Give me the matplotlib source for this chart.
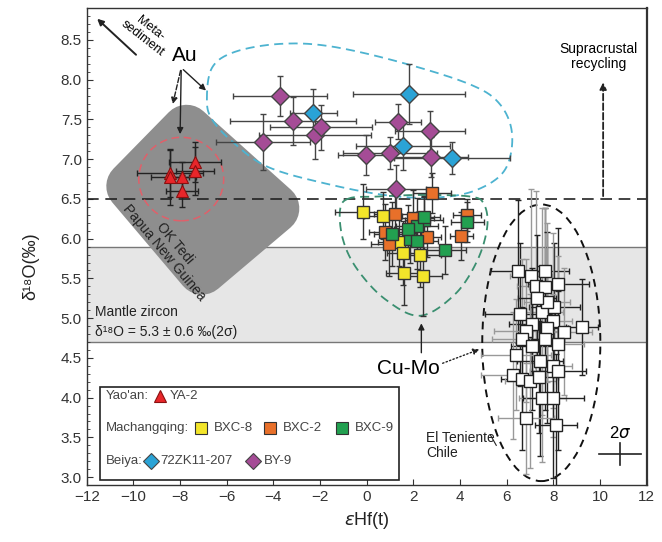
import numpy as np
import matplotlib
matplotlib.use("Agg")
import matplotlib.pyplot as plt
from matplotlib.patches import Polygon, Ellipse, Rectangle
from matplotlib.ticker import MultipleLocator, FormatStrFormatter

plt.rcParams['font.family'] = ['Liberation Sans', 'DejaVu Sans']
plt.rcParams['mathtext.fontset'] = 'dejavusans'

# ---- data (eHf(t), d18O, 2s errors) ----
# Yao'an YA-2
ya2_x = [-8.43, -8.43, -7.92, -7.92, -7.36, -7.36]
ya2_y = [6.83, 6.77, 6.77, 6.60, 6.96, 6.85]
ya2_xe = [1.4, 0.8, 0.6, 0.7, 1.1, 0.8]
ya2_ye = [0.30, 0.35, 0.20, 0.20, 0.25, 0.30]

# Beiya BY-9
by9_x = [-3.72, -3.15, -4.44, -2.22, -1.96, 1.34, 2.71, -0.03, 1.00, 2.76, 1.26]
by9_y = [7.79, 7.48, 7.22, 7.30, 7.40, 7.47, 7.35, 7.05, 7.08, 7.03, 6.63]
by9_xe = [2.0, 2.7, 2.0, 2.4, 2.2, 1.0, 1.5, 1.2, 2.0, 1.6, 1.3]
by9_ye = [0.25, 0.30, 0.35, 0.30, 0.28, 0.22, 0.25, 0.25, 0.20, 0.25, 0.30]

# Beiya 72ZK11-207
zk_x = [-2.29, 1.82, 1.56, 3.66]
zk_y = [7.58, 7.82, 7.16, 7.01]
zk_xe = [1.0, 2.4, 2.0, 2.5]
zk_ye = [0.30, 0.38, 0.30, 0.20]

# Machangqing BXC-8, BXC-2, BXC-9
bxc8_x = [-0.16, 0.70, 1.39, 1.56, 2.29, 1.61, 2.43]
bxc8_y = [6.34, 6.29, 5.96, 5.82, 5.79, 5.57, 5.53]
bxc8_xe = [1.2, 0.8, 0.9, 0.7, 0.9, 0.8, 0.8]
bxc8_ye = [0.35, 0.30, 0.30, 0.40, 0.40, 0.40, 0.50]

bxc2_x = [2.80, 1.21, 0.79, 0.97, 2.60, 4.05, 1.99, 4.31]
bxc2_y = [6.57, 6.31, 6.08, 5.93, 6.02, 6.03, 6.26, 6.30]
bxc2_xe = [0.8, 0.9, 0.7, 0.8, 0.6, 0.5, 0.9, 0.6]
bxc2_ye = [0.25, 0.30, 0.35, 0.40, 0.25, 0.30, 0.35, 0.20]

bxc9_x = [4.31, 2.46, 2.15, 1.86, 1.09, 1.78, 2.15, 3.36, 2.46]
bxc9_y = [6.21, 6.24, 6.16, 6.00, 6.06, 6.12, 5.97, 5.86, 6.27]
bxc9_xe = [0.7, 0.8, 0.9, 0.7, 0.8, 0.6, 0.9, 0.9, 0.7]
bxc9_ye = [0.25, 0.30, 0.35, 0.30, 0.40, 0.30, 0.35, 0.30, 0.25]

# El Teniente, Chile
ten_x = [6.49, 7.05, 7.65, 7.26, 8.21, 7.65, 6.58, 7.52, 8.04, 7.99, 7.09, 6.84, 7.73,
         8.45, 9.23, 6.66, 7.65, 8.21, 7.09, 6.41, 7.43, 7.99, 8.21, 6.28, 6.66, 7.01,
         7.39, 7.52, 7.99, 6.84, 8.13, 7.73, 7.30]
ten_y = [5.59, 5.53, 5.59, 5.40, 5.43, 5.39, 5.05, 5.08, 5.14, 4.97, 4.93, 4.84, 4.88,
         4.83, 4.89, 4.74, 4.74, 4.68, 4.65, 4.54, 4.46, 4.40, 4.34, 4.28, 4.24, 4.21,
         4.26, 3.99, 3.99, 3.74, 3.65, 5.20, 5.25]
ten_xe = [1.2, 0.9, 1.0, 0.8, 1.3, 0.7, 1.5, 0.9, 1.1, 0.8, 1.0, 1.4, 0.9, 1.2, 0.7, 1.3,
          0.8, 1.1, 0.9, 1.5, 1.0, 0.8, 1.2, 1.4, 0.9, 1.1, 0.8, 1.0, 1.3, 1.2, 0.9, 1.0, 0.8]
ten_ye = [0.9, 1.1, 0.8, 1.2, 0.7, 1.0, 0.9, 1.3, 0.8, 1.1, 0.7, 0.9, 1.2, 0.8, 0.6, 1.0,
          0.9, 1.1, 0.8, 0.7, 1.2, 0.9, 1.0, 0.8, 0.9, 1.1, 0.7, 0.8, 1.0, 0.7, 0.9, 1.0, 0.8]

# mantle zircon 5.3 +- 0.6
mantle_lo, mantle_hi = 4.7, 5.9

# field outlines
oktedi_x = [-7.72, -10.09, -7.06, -3.96]
oktedi_y = [7.37, 6.66, 5.61, 6.38]
beiya_x = [-6.85, -6.63, -5.65, -3.72, -1.57, 1.43, 4.43, 5.71, 6.23, 5.93, 4.77, 3.14,
           1.00, -1.57, -4.22, -5.72, -6.63]
beiya_y = [7.75, 8.15, 8.35, 8.45, 8.42, 8.22, 7.94, 7.69, 7.31, 6.87, 6.62, 6.52,
           6.54, 6.68, 6.90, 7.21, 7.50]
mcq_x = [-0.72, -1.14, -1.02, -0.42, 0.78, 2.28, 3.78, 4.73, 5.16, 5.03, 4.43, 2.28, 0.57]
mcq_y = [6.51, 6.37, 5.99, 5.62, 5.24, 5.03, 5.30, 5.72, 6.14, 6.43, 6.53, 6.55, 6.53]


def smooth_closed(xs, ys, n=24):
    P = np.column_stack([xs, ys])
    m = len(P)
    t = np.linspace(0, 1, n, endpoint=False)[:, None]
    out = []
    for i in range(m):
        p0, p1, p2, p3 = P[i - 1], P[i], P[(i + 1) % m], P[(i + 2) % m]
        out.append(0.5 * (2 * p1 + (-p0 + p2) * t + (2 * p0 - 5 * p1 + 4 * p2 - p3) * t ** 2
                          + (-p0 + 3 * p1 - 3 * p2 + p3) * t ** 3))
    out = np.vstack(out)
    return np.vstack([out, out[:1]])


fig = plt.figure(figsize=(6.62, 5.42), dpi=100)
ax = fig.add_axes([0.131, 0.105, 0.846, 0.88])
ax.set_xlim(-12, 12)
ax.set_ylim(2.9, 8.9)

# mantle band
ax.axhspan(mantle_lo, mantle_hi, color='#e6e6e6', zorder=0, lw=0)
ax.axhline(mantle_lo, color='#777777', lw=1, zorder=0.5)
ax.axhline(mantle_hi, color='#777777', lw=1, zorder=0.5)

# Ok Tedi field (rounded by thick round-joined edge)
ax.add_patch(Polygon(np.column_stack([oktedi_x, oktedi_y]), closed=True, fc='#8e8e8e',
                     ec='#8e8e8e', lw=36, joinstyle='round', zorder=1))

ax.axhline(6.5, color='#222222', lw=1.2, ls=(0, (7, 4)), zorder=2)

c = smooth_closed(beiya_x, beiya_y)
ax.plot(c[:, 0], c[:, 1], color='#4db3d0', lw=1.3, ls=(0, (5, 3)), zorder=3)
c = smooth_closed(mcq_x, mcq_y)
ax.plot(c[:, 0], c[:, 1], color='#3a8f70', lw=1.3, ls=(0, (5, 3)), zorder=3)
ax.add_patch(Ellipse((-7.95, 6.75), 3.64, 1.05, fill=False, ec='#e0606a', lw=1.1,
                     ls=(0, (5, 3)), zorder=3))
ax.add_patch(Ellipse((7.48, 4.69), 5.06, 3.48, fill=False, ec='#111111', lw=1.4,
                     ls=(0, (4, 3)), zorder=3))

# error bars + symbols
eb = dict(fmt='none', elinewidth=1, capsize=2.5, capthick=1, zorder=4)
for i in range(len(ten_x)):
    col = '#222222' if i % 2 == 0 else '#999999'
    ax.errorbar(ten_x[i], ten_y[i], xerr=ten_xe[i], yerr=ten_ye[i], ecolor=col, **eb)
ax.plot(ten_x, ten_y, 's', ms=9, mfc='white', mec='#222222', mew=1, zorder=5)

for xs, ys, xe, ye in [(bxc8_x, bxc8_y, bxc8_xe, bxc8_ye), (bxc2_x, bxc2_y, bxc2_xe, bxc2_ye),
                       (bxc9_x, bxc9_y, bxc9_xe, bxc9_ye)]:
    ax.errorbar(xs, ys, xerr=xe, yerr=ye, ecolor='#333333', **eb)
ax.plot(bxc8_x, bxc8_y, 's', ms=9, mfc='#f3e52a', mec='#333333', mew=1, zorder=5)
ax.plot(bxc2_x, bxc2_y, 's', ms=9, mfc='#e8702a', mec='#333333', mew=1, zorder=5)
ax.plot(bxc9_x, bxc9_y, 's', ms=9, mfc='#22a050', mec='#333333', mew=1, zorder=5)

ax.errorbar(by9_x, by9_y, xerr=by9_xe, yerr=by9_ye, ecolor='#444444', **eb)
ax.errorbar(zk_x, zk_y, xerr=zk_xe, yerr=zk_ye, ecolor='#444444', **eb)
ax.plot(by9_x, by9_y, 'D', ms=9, mfc='#a54c96', mec='#444444', mew=1, zorder=5)
ax.plot(zk_x, zk_y, 'D', ms=9, mfc='#2aa3d6', mec='#444444', mew=1, zorder=5)

ax.errorbar(ya2_x, ya2_y, xerr=ya2_xe, yerr=ya2_ye, ecolor='#222222', **eb)
ax.plot(ya2_x, ya2_y, '^', ms=8, mfc='#e8262a', mec='#8a1010', mew=0.8, zorder=5)

# annotations
arr = dict(arrowstyle='-|>', color='#222222', lw=1, mutation_scale=9)
ax.annotate('', xy=(-11.64, 8.79), xytext=(-9.80, 8.29), arrowprops=dict(arr, lw=1.4))
ax.text(-9.45, 8.58, 'Meta-\nsediment', rotation=-38, ha='center', va='center',
        fontsize=9, linespacing=1.0)
ax.text(-7.8, 8.3, 'Au', fontsize=15, ha='center', va='center')
ax.annotate('', xy=(-8.34, 7.66), xytext=(-7.95, 8.15), arrowprops=dict(arr, ls='--'))
ax.annotate('', xy=(-8.00, 7.28), xytext=(-7.95, 8.15), arrowprops=arr)
ax.annotate('', xy=(-6.80, 7.84), xytext=(-7.95, 8.15), arrowprops=arr)
ax.text(-8.45, 5.88, 'OK Tedi\nPapua New Guinea', rotation=-50, ha='center', va='center',
        fontsize=10, linespacing=1.0, color='#222222')

ax.text(-11.65, 5.08, 'Mantle zircon', fontsize=10, va='center', color='#222222')
ax.text(-11.65, 4.83, 'δ¹⁸O = 5.3 ± 0.6 ‰(2σ)', fontsize=10, va='center', color='#222222')

ax.annotate('', xy=(10.13, 8.0), xytext=(10.13, 6.5),
            arrowprops=dict(arrowstyle='-|>', color='#222222', lw=1.3, ls='--',
                            mutation_scale=10))
ax.text(9.92, 8.29, 'Supracrustal\nrecycling', ha='center', va='center', fontsize=10,
        linespacing=1.1)

ax.text(1.78, 4.37, 'Cu-Mo', fontsize=15, ha='center', va='center')
ax.annotate('', xy=(2.34, 4.97), xytext=(2.34, 4.53), arrowprops=arr)
ax.annotate('', xy=(4.94, 4.62), xytext=(3.14, 4.42), arrowprops=dict(arr, ls=':'))
ax.text(2.55, 3.40, 'El Teniente\nChile', fontsize=10, ha='left', va='center',
        linespacing=1.1, color='#222222')
ax.plot([5.3, 5.55], [3.53, 3.40], color='#222222', lw=0.8)

# 2 sigma scale cross
ax.plot([9.95, 11.75], [3.29, 3.29], color='#222222', lw=1.2)
ax.plot([10.86, 10.86], [3.15, 3.43], color='#222222', lw=1.2)
ax.text(10.86, 3.56, r'2$\sigma$', fontsize=12, ha='center', va='center')

# legend box
ax.add_patch(Rectangle((-11.43, 2.97), 12.82, 1.16, fc='white', ec='#222222', lw=1.2,
                       zorder=6))
lt = dict(fontsize=9.5, va='center', color='#444444', zorder=7)
lm = dict(ls='none', zorder=7, mew=0.8)
ax.text(-11.17, 4.02, "Yao'an:", **lt)
ax.plot(-8.86, 4.02, '^', ms=8, mfc='#e8262a', mec='#8a1010', **lm)
ax.text(-8.45, 4.02, 'YA-2', **lt)
ax.text(-11.17, 3.62, 'Machangqing:', **lt)
ax.plot(-7.12, 3.62, 's', ms=8, mfc='#f3e52a', mec='#333333', **lm)
ax.text(-6.55, 3.62, 'BXC-8', **lt)
ax.plot(-4.15, 3.62, 's', ms=8, mfc='#e8702a', mec='#333333', **lm)
ax.text(-3.58, 3.62, 'BXC-2', **lt)
ax.plot(-1.05, 3.62, 's', ms=8, mfc='#22a050', mec='#333333', **lm)
ax.text(-0.50, 3.62, 'BXC-9', **lt)
ax.text(-11.17, 3.20, 'Beiya:', **lt)
ax.plot(-9.25, 3.20, 'D', ms=8, mfc='#2aa3d6', mec='#444444', **lm)
ax.text(-8.85, 3.20, '72ZK11-207', **lt)
ax.plot(-4.87, 3.20, 'D', ms=8, mfc='#a54c96', mec='#444444', **lm)
ax.text(-4.40, 3.20, 'BY-9', **lt)

# axes styling
ax.xaxis.set_major_locator(MultipleLocator(2))
ax.yaxis.set_major_locator(MultipleLocator(0.5))
ax.yaxis.set_minor_locator(MultipleLocator(0.1))
ax.yaxis.set_major_formatter(FormatStrFormatter('%.1f'))
ax.tick_params(which='both', direction='in', top=False, right=False, labelsize=11,
               labelcolor='#333333', color='#333333')
ax.tick_params(which='major', length=4)
ax.tick_params(which='minor', length=2)
for s in ax.spines.values():
    s.set_color('#333333')
    s.set_linewidth(1.0)
ax.spines['right'].set_linewidth(1.6)
ax.set_xlabel(r'$\varepsilon$Hf(t)', fontsize=13, color='#222222')
ax.set_ylabel('δ¹⁸O(‰)', fontsize=13, color='#222222')
ax.yaxis.set_label_coords(-0.085, 0.46)

fig.savefig('out.png', dpi=100)
